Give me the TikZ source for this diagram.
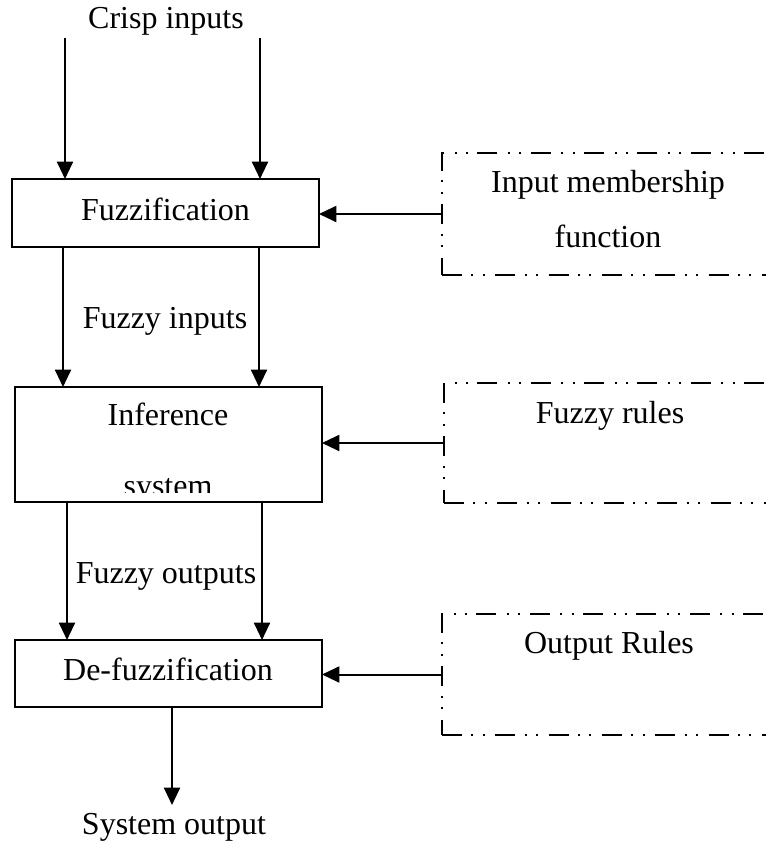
\documentclass[tikz,border=0pt]{standalone}
\usepackage{fontspec}
\setmainfont{Liberation Serif}
\usetikzlibrary{arrows.meta}
\begin{document}
\begin{tikzpicture}[x=0.75pt,y=-0.75pt,
  box/.style={draw, line width=1.5pt, minimum width=230.25pt, inner sep=0pt, outer sep=0pt},
  ddbox/.style={draw, line width=1.6pt, minimum width=255pt, inner sep=0pt, outer sep=0pt,
    dash pattern=on 15pt off 7pt on 1.5pt off 7pt on 1.5pt off 8pt},
  txt/.style={font=\fontsize{24}{28}\selectfont, inner sep=0pt, anchor=base},
  arr/.style={-{Triangle[length=13pt,width=12pt]}, line width=1.5pt}]
\useasboundingbox (0,0) rectangle (766,846);
\clip (0,0) rectangle (766,846);
% main boxes
\node[box, minimum height=51pt] (fuzz) at (165.5,213) {};
\node[box, minimum height=86.25pt] (inf) at (168.5,444.5) {};
\node[box, minimum height=50.25pt] (defuzz) at (168.5,673.5) {};
% dashed boxes
\node[ddbox, minimum height=91.5pt] (imf) at (612,214) {};
\node[ddbox, minimum height=90pt] (rules) at (614,443) {};
\node[ddbox, minimum height=90.75pt] (outr) at (612,674.5) {};
% texts
\node[txt] (crisp) at (166,28) {Crisp inputs};
\node[txt] (fuzzt) at (165.5,220) {Fuzzification};
\node[txt] (fin) at (165,328) {Fuzzy inputs};
\node[txt] (inft) at (168,425) {Inference};
\begin{scope}
\clip (15,387) rectangle (322,492);
\node[txt] (syst) at (168,496) {system};
\end{scope}
\node[txt] (fout) at (166,583) {Fuzzy outputs};
\node[txt] (dft) at (168,680) {De-fuzzification};
\node[txt] (sysout) at (174,834) {System output};
\node[txt] (imft1) at (608,192) {Input membership};
\node[txt] (imft2) at (608,247) {function};
\node[txt] (frt) at (610,423) {Fuzzy rules};
\node[txt] (ort) at (609,653) {Output Rules};
% coordinates
\coordinate (ci1) at (65,38);
\coordinate (ci2) at (260,38);
\coordinate (fa) at (63,0);
\coordinate (fb) at (259,0);
\coordinate (oa) at (67,0);
\coordinate (ob) at (262,0);
\coordinate (so) at (172,805);
% arrows
\draw[arr] (ci1) -- (ci1 |- fuzz.north);
\draw[arr] (ci2) -- (ci2 |- fuzz.north);
\draw[arr] (fa |- fuzz.south) -- (fa |- inf.north);
\draw[arr] (fb |- fuzz.south) -- (fb |- inf.north);
\draw[arr] (oa |- inf.south) -- (oa |- defuzz.north);
\draw[arr] (ob |- inf.south) -- (ob |- defuzz.north);
\draw[arr] (so |- defuzz.south) -- (so);
\draw[arr] (imf.west) -- (imf.west -| fuzz.east);
\draw[arr] (rules.west) -- (rules.west -| inf.east);
\draw[arr] (outr.west) -- (outr.west -| defuzz.east);
\end{tikzpicture}
\end{document}
